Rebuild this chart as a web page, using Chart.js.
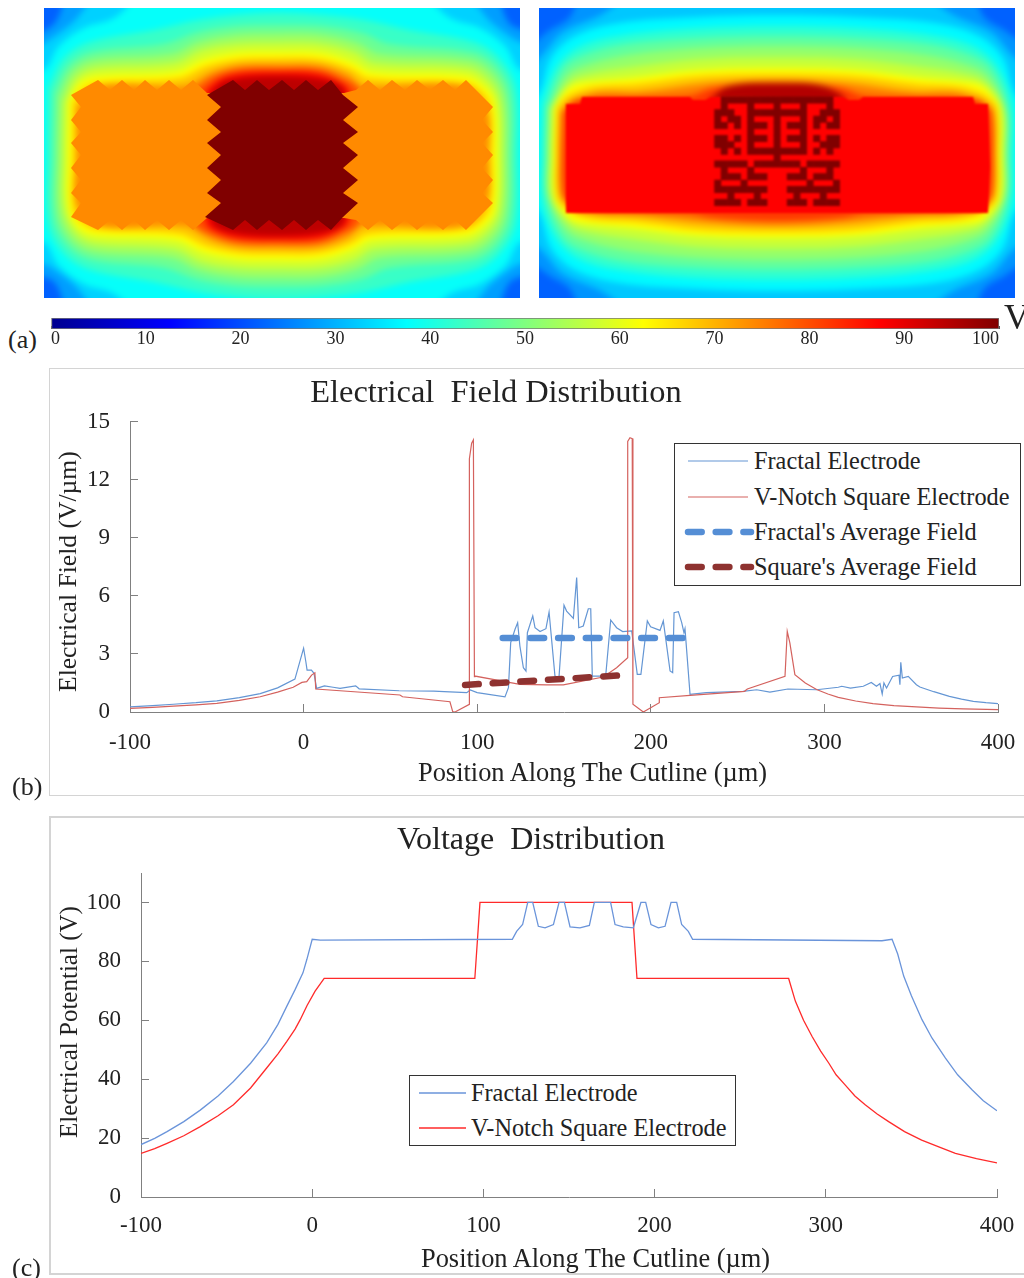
<!DOCTYPE html>
<html>
<head>
<meta charset="utf-8">
<title>Electrode field and voltage distribution</title>
<script src="https://cdn.jsdelivr.net/npm/chart.js@4/dist/chart.umd.min.js"></script>
<style>
    html, body { margin: 0; padding: 0; background: #fff; }
    body { position: relative; width: 1024px; height: 1278px; overflow: hidden; font-family: "Liberation Serif", serif; color: #222; }
    canvas { position: absolute; }
    .heat { position: absolute; top: 8px; width: 476px; height: 290px; overflow: hidden; }
    .heat canvas { left: -20px; top: -20px; }
    .halo { filter: blur(3px); }
    .metal { filter: blur(0.7px); }
    .frame { position: absolute; left: 49px; width: 985px; box-sizing: border-box; border: 1px solid #d4d4d4; }
    .tag { position: absolute; font-size: 26px; line-height: 28px; }
    .axisname { position: absolute; white-space: nowrap; line-height: 30px; color: #222; }
    .axisname.up { transform-origin: 0 0; transform: rotate(-90deg); }
    .legend { position: absolute; box-sizing: border-box; border: 1.5px solid #333; background: #fff; }
    .legend svg { position: absolute; overflow: visible; left: 0; top: 0; }
    .legend span { position: absolute; font-size: 24.3px; line-height: 28px; white-space: nowrap; color: #222; }
</style>
</head>
<body>
<div class="heat" style="left:44px"><canvas id="heatLeftHalo" class="halo" width="516" height="330"></canvas><canvas id="heatLeftMetal" class="metal" width="516" height="330"></canvas></div>
<div class="heat" style="left:539px"><canvas id="heatRightHalo" class="halo" width="516" height="330"></canvas><canvas id="heatRightMetal" class="metal" style="filter:blur(1.2px)" width="516" height="330"></canvas></div>
<canvas id="colorBar" width="984" height="40" style="left:40px;top:312px"></canvas>
<div class="tag" style="left:8px;top:326px">(a)</div>
<div class="tag" style="left:1004px;top:297px;font-size:36px;line-height:40px">V</div>

<div class="frame" style="top:368px;height:428px"></div>
<canvas id="fieldChart" width="1056" height="426" style="left:-32px;top:369px"></canvas>
<div class="axisname" style="left:418px;top:757px;font-size:26.4px">Position Along The Cutline (µm)</div>
<div class="axisname up" style="left:53px;top:692px;font-size:25.6px">Electrical Field (V/µm)</div>
<div class="tag" style="left:12px;top:773px">(b)</div>
<div class="legend" id="fieldLegend" style="left:674px;top:443px;width:347px;height:143px"></div>

<div class="frame" style="top:816px;height:459px;border-width:2px"></div>
<canvas id="voltageChart" width="986" height="457" style="left:38px;top:817px"></canvas>
<div class="axisname" style="left:421px;top:1243px;font-size:26.4px">Position Along The Cutline (µm)</div>
<div class="axisname up" style="left:54px;top:1138px;font-size:25px">Electrical Potential (V)</div>
<div class="tag" style="left:12px;top:1254px">(c)</div>
<div class="legend" id="voltageLegend" style="left:409px;top:1075px;width:327px;height:71px"></div>

<script>
// Colour scale of the potential maps
const jetStops = [0, 12.5, 37.5, 62.5, 87.5, 100];
const jetColors = ['#00008f', '#0000ff', '#00ffff', '#ffff00', '#ff0000', '#800000'];
const barRange = [0, 100];

// (b) field along the cutline
const fractalFieldX = [-100, -87, -75, -62, -50, -37, -25, -15, -5, 0, 1.3, 2, 4.5, 6, 7.5, 12, 17, 21, 30, 32, 55, 75, 81, 94, 96, 100, 116, 118, 119.3, 121.8, 123.3, 124.6, 126.6, 128.1, 128.9, 132, 133.3, 136.2, 139.6, 141.4, 144.8, 147.1, 150, 151.5, 155.4, 157.3, 158.5, 161.1, 164, 165.4, 166.3, 174, 176.9, 180.3, 183.8, 189, 192.2, 194.3, 198, 199.9, 205.3, 207.2, 211.1, 212.6, 213.4, 215.9, 217.8, 219.1, 219.7, 222.6, 232, 253, 261, 268.6, 279, 295.5, 308, 310, 315, 322.4, 327, 330, 332, 333.3, 334.3, 335.8, 339.3, 343, 343.5, 344, 344.9, 348.3, 353, 355, 363, 372, 379, 385.8, 393, 400];
const fractalFieldY = [0.27, 0.33, 0.4, 0.48, 0.58, 0.74, 0.95, 1.25, 1.7, 3.3, 2.6, 2.17, 2.17, 2, 1.22, 1.35, 1.28, 1.22, 1.35, 1.2, 1.1, 1.08, 1.05, 1, 1.14, 1, 0.78, 1.26, 3.59, 4.28, 4.62, 3.41, 2.29, 2.12, 4.1, 4.97, 4.36, 4.16, 4.31, 5.17, 1.86, 1.78, 5.52, 5.22, 4.84, 6.95, 4.36, 4.45, 5.34, 5.34, 1.86, 1.86, 4.76, 4.36, 4.16, 4.19, 1.95, 1.95, 4.71, 4.41, 4.22, 4.71, 2.12, 2.03, 5.14, 5.19, 4.62, 4.1, 4.31, 0.91, 1, 1.07, 1.15, 1.03, 1.19, 1.15, 1.28, 1.33, 1.24, 1.33, 1.53, 1.33, 1.47, 0.93, 1.5, 1.24, 1.84, 1.9, 1.41, 2.57, 1.76, 1.84, 1.41, 1.29, 1.05, 0.81, 0.67, 0.55, 0.48, 0.43];
const squareFieldX = [-100, -87, -75, -62, -50, -37, -25, -15, -6, -1, 1.8, 4.6, 6.5, 7, 55.5, 57, 84.3, 85.9, 87.2, 95.5, 95.5, 96.8, 97.8, 98.4, 98.7, 124.6, 140, 149.6, 172.6, 180.3, 186.7, 186.7, 188, 189.3, 189.7, 195.7, 204.9, 204.9, 222.6, 254, 255.6, 277.3, 278.6, 280.1, 283, 289, 295.5, 302, 308, 318, 328, 340, 353, 366, 380, 400];
const squareFieldY = [0.19, 0.24, 0.3, 0.37, 0.45, 0.6, 0.79, 1.03, 1.28, 1.53, 1.57, 1.91, 2.03, 1.19, 0.88, 0.79, 0.53, 0.02, 0, 0.4, 13.1, 13.9, 14.07, 1.83, 1.86, 1.43, 1.4, 1.4, 1.81, 2.29, 2.81, 14, 14.19, 14.14, 0.4, 0, 0.48, 0.74, 0.86, 1.07, 1.19, 1.84, 4.17, 3.57, 1.93, 1.5, 1.16, 0.93, 0.76, 0.57, 0.43, 0.33, 0.26, 0.2, 0.16, 0.12];
const fractalAvgX = [114.7, 220.7];
const fractalAvgY = [3.83, 3.83];
const squareAvgX = [93, 183.6];
const squareAvgY = [1.4, 1.9];

// (c) potential along the cutline
const fractalVoltX = [-100, -92, -84.8, -75, -65.4, -55, -46, -36, -26.6, -20, -14.8, -10, -5.4, -3.1, 0, 4.7, 116.9, 119.4, 122.9, 125.9, 128.8, 132.1, 136, 140.9, 144.2, 147.3, 150.6, 156.4, 161.9, 164.8, 174.3, 176.9, 181.7, 187.6, 192, 194.8, 197.9, 202.2, 206.1, 209.6, 212.9, 215.8, 219.7, 222.2, 332.8, 338.7, 342, 345.5, 350, 356.2, 362, 369.8, 377, 385.4, 392, 400];
const fractalVoltY = [17.8, 19.9, 22.2, 25.6, 29.5, 34.3, 39.2, 45.4, 52.3, 58.6, 64.8, 70.4, 76.1, 80.7, 87.5, 87.2, 87.5, 90.2, 92.5, 100, 100, 91.9, 91.4, 92.5, 100, 100, 91.7, 91.4, 92.2, 100, 100, 92.5, 91.7, 91.4, 100, 100, 92.5, 91.4, 91.9, 100, 100, 92.5, 90.2, 87.5, 87, 87.5, 82.5, 75, 68.3, 60.2, 54, 47.2, 41.5, 36.4, 32.7, 29.3];
const squareVoltX = [-100, -92, -84.8, -75, -65.4, -55, -46, -36, -26.6, -20, -14.8, -10, -7, -3, 1.7, 7, 95, 98, 186.8, 189.7, 278.3, 282.2, 287, 292, 297, 301.7, 306, 311.4, 317, 323, 330, 336.7, 346, 356, 366, 375.7, 388, 400];
const squareVoltY = [14.8, 16.4, 18.2, 20.8, 23.9, 27.6, 31.3, 37, 43.8, 48.6, 52.8, 57, 60.2, 65, 69.9, 74.2, 74.2, 100, 100, 74.2, 74.2, 66.5, 60, 54.5, 49.5, 45.5, 41.5, 38, 34.3, 31.3, 28.2, 25.6, 22.2, 19.3, 17, 14.8, 13, 11.6];

const fieldTicks = { xStep: 100, yStep: 3 };
const voltageTicks = { xStep: 100, yStep: 20 };
const fieldNames = ['Fractal Electrode', 'V-Notch Square Electrode', "Fractal's Average Field", "Square's Average Field"];
const voltageNames = ['Fractal Electrode', 'V-Notch Square Electrode'];

// (a) left map, contours of equal potential
const leftLevels = [22, 28, 33, 38, 43, 48, 53, 58, 62.5, 68, 74, 80, 88, 94];
const leftContours = [
    [[-20,-20],[496,-20],[496,310],[-20,310]],
    [[-20,32],[10,16],[32,-20],[444,-20],[466,16],[496,32],[496,258],[466,274],[444,310],[32,310],[10,274],[-20,258]],
    [[-20,48],[8,30],[28,15],[66,-20],[410,-20],[448,15],[468,30],[496,48],[496,242],[468,260],[448,275],[410,310],[66,310],[28,275],[8,260],[-20,242]],
    [[-20,62],[0,62],[15,38],[40,20],[70,10],[110,-20],[366,-20],[406,10],[436,20],[461,38],[476,62],[496,62],[496,234],[476,234],[461,258],[436,276],[406,286],[366,316],[110,316],[70,286],[40,276],[15,258],[0,234],[-20,234]],
    [[4,80],[20,50],[46,34],[110,22],[155,12],[193,7],[233,5],[277,7],[320,12],[365,22],[430,34],[455,50],[472,80],[474,148],[472,216],[455,246],[430,262],[365,274],[320,284],[277,289],[233,291],[193,289],[155,284],[110,274],[46,262],[20,246],[4,216],[3,148]],
    [[10,85],[24,58],[48,44],[120,36],[155,24],[193,18],[233,17],[277,18],[318,25],[345,36],[428,44],[452,58],[466,85],[468,148],[466,211],[452,238],[428,252],[345,260],[318,271],[277,278],[233,279],[193,278],[155,272],[120,260],[48,252],[24,238],[10,211],[9,148]],
    [[15,90],[28,64],[50,52],[128,46],[155,34],[193,27],[233,26],[277,27],[313,35],[335,46],[426,52],[449,66],[461,90],[463,148],[461,206],[449,230],[426,244],[335,250],[313,261],[277,269],[233,270],[193,269],[155,262],[128,250],[50,244],[28,232],[15,206],[14,148]],
    [[20,95],[32,70],[52,60],[130,55],[158,42],[193,36],[233,35],[277,36],[310,44],[330,55],[424,60],[446,74],[456,95],[458,148],[456,201],[446,222],[424,236],[330,241],[310,252],[277,260],[233,261],[193,260],[158,254],[130,241],[52,236],[32,226],[20,201],[19,148]],
    [[25,92],[37,74],[54,68],[132,64],[159,52],[193,45],[233,44],[277,45],[308,54],[328,64],[422,68],[442,80],[451,95],[453,148],[451,201],[442,216],[422,228],[328,232],[308,242],[277,251],[233,252],[193,251],[159,244],[132,232],[54,228],[37,222],[25,204],[24,148]],
    [[29,95],[40,80],[56,74],[135,70],[162,58],[195,51],[233,50],[275,51],[306,60],[325,70],[420,74],[438,84],[447,100],[448,148],[447,196],[438,212],[420,222],[325,226],[306,236],[275,245],[233,246],[195,245],[162,238],[135,226],[56,222],[40,216],[29,201],[29,148]],
    [[33,100],[58,78],[140,78],[168,64],[195,57],[233,56],[275,57],[303,66],[320,78],[418,78],[443,105],[444,148],[443,191],[418,218],[320,218],[303,230],[275,239],[233,240],[195,239],[168,232],[140,218],[58,218],[33,196],[33,148]],
    [[150,82],[170,68],[195,61],[233,60],[275,61],[298,70],[315,82],[315,214],[298,226],[275,235],[233,236],[195,235],[170,228],[150,214]],
    [[162,82],[178,70],[200,65],[233,64],[270,65],[292,72],[305,84],[305,212],[292,224],[270,231],[233,232],[200,231],[178,226],[162,214]],
    [[168,84],[182,73],[233,68],[285,73],[300,84],[300,212],[285,223],[233,228],[182,223],[168,212]]
];
const orangeLevel = 74;
const orangeOutline = [[27,87],[54,72],[66,82],[78,72],[90,82],[101,72],[113,82],[125,72],[137,82],[149,72],[163,85],[300,85],[312,82],[324,72],[336,82],[348,72],[361,82],[373,72],[386,82],[399,72],[411,82],[422,72],[449,99],[438,112],[449,124],[438,135],[449,147],[438,160],[449,172],[438,185],[449,195],[422,222],[411,212],[399,222],[386,212],[373,222],[361,212],[348,222],[336,212],[324,222],[312,212],[300,210],[163,210],[149,222],[137,212],[125,222],[113,212],[101,222],[90,212],[78,222],[66,212],[54,222],[27,209],[37,195],[27,185],[37,172],[27,160],[37,147],[27,135],[37,124],[27,112],[37,99]];
const darkLevel = 100;
const darkOutline = [[163,87],[189,72],[201,82],[213,72],[225,82],[238,72],[250,82],[262,72],[274,82],[287,72],[299,87],[314,99],[299,112],[314,124],[299,135],[314,147],[299,160],[314,172],[299,185],[314,195],[299,209],[287,222],[274,212],[262,222],[250,212],[238,222],[225,212],[213,222],[201,212],[189,222],[161,209],[177,195],[163,185],[177,172],[163,160],[177,147],[163,135],[177,124],[163,112],[177,99]];

// (a) right map
const rightLevels = [22, 27, 32, 37, 42, 47, 52, 57, 62.5, 68, 75, 82, 95];
const rightContours = [
    [[-20,-20],[496,-20],[496,310],[-20,310]],
    [[-20,50],[8,24],[30,10],[50,-20],[426,-20],[446,10],[468,24],[496,50],[496,240],[468,266],[446,280],[426,310],[50,310],[30,280],[8,266],[-20,240]],
    [[-20,72],[4,46],[24,24],[60,8],[110,-20],[366,-20],[416,8],[452,24],[472,46],[496,72],[496,218],[472,244],[452,266],[416,282],[366,310],[110,310],[60,282],[24,266],[4,244],[-20,218]],
    [[-20,105],[0,85],[12,50],[36,28],[80,15],[160,9],[238,7],[316,9],[396,15],[440,28],[464,50],[476,85],[496,105],[496,185],[476,205],[464,240],[440,262],[396,275],[316,281],[238,283],[160,281],[80,275],[36,262],[12,240],[0,205],[-20,185]],
    [[3,95],[18,58],[42,38],[85,27],[160,20],[238,18],[316,20],[391,27],[434,38],[458,58],[473,95],[474,147],[473,195],[458,232],[434,252],[391,263],[316,270],[238,272],[160,270],[85,263],[42,252],[18,232],[3,195],[2,147]],
    [[7,100],[24,60],[47,46],[88,36],[160,30],[238,28],[316,30],[388,36],[429,46],[452,60],[469,100],[470,147],[469,190],[452,230],[429,244],[388,254],[316,260],[238,262],[160,260],[88,254],[47,244],[24,230],[7,190],[6,147]],
    [[10,100],[28,67],[50,56],[90,47],[160,40],[238,38],[316,40],[386,47],[426,56],[448,67],[466,100],[467,147],[466,190],[448,223],[426,234],[386,243],[316,250],[238,252],[160,250],[90,243],[50,234],[28,223],[10,190],[9,147]],
    [[12,100],[31,73],[53,65],[92,59],[160,51],[238,49],[316,51],[384,59],[423,65],[445,73],[464,100],[465,147],[464,190],[445,217],[423,225],[384,231],[316,239],[238,241],[160,239],[92,231],[53,225],[31,217],[12,190],[11,147]],
    [[15,100],[22,88],[34,77],[56,73],[91,70],[160,62],[238,60],[316,62],[385,70],[420,73],[442,77],[454,88],[461,100],[462,147],[461,190],[454,202],[442,213],[420,217],[385,220],[316,228],[238,230],[160,228],[91,220],[56,217],[34,213],[22,202],[15,190],[14,147]],
    [[18,100],[26,90],[36,84],[58,78],[95,76],[160,68],[238,66],[316,68],[381,76],[418,78],[440,84],[450,90],[458,100],[459,147],[458,190],[450,200],[440,206],[418,212],[381,214],[316,222],[238,224],[160,222],[95,214],[58,212],[36,206],[26,200],[18,190],[17,147]],
    [[21,105],[30,94],[40,90],[60,84],[100,84],[170,75],[238,72],[306,75],[376,84],[416,84],[436,90],[446,94],[455,105],[456,147],[455,185],[446,196],[436,200],[416,206],[376,208],[306,215],[238,218],[170,215],[100,208],[60,206],[40,200],[30,196],[21,185],[20,147]],
    [[24,105],[32,95],[44,90],[150,88],[175,80],[238,77],[301,80],[326,88],[432,90],[444,95],[452,105],[453,185],[444,201],[432,204],[326,206],[301,210],[238,213],[175,210],[150,206],[44,204],[32,200],[24,185]],
    [[170,92],[190,78],[240,75],[285,78],[305,92]]
];
const redLevel = 87.5;
const redOutline = [[27,96],[41,96],[43,89],[151,89],[154,92],[166,92],[172,89],[304,89],[310,92],[320,92],[324,89],[434,89],[436,96],[449,96],[451,159],[449,205],[27,205]];
// fractal electrode pattern, one character per cell
const fractalCells = [
    '.#################.',
    '.#...#...#...#...#.',
    '###..#########..###',
    '#.##.#...#...#.##.#',
    '##.#.###.#.###.#.##',
    '.....#...#...#.....',
    '##.#.###.#.###.#.##',
    '###..#...#...#..###',
    '.#.#.#########.#.#.',
    '.........#.........',
    '#####.#######.#####',
    '.#...#.......#...#.',
    '.###.###...###.###.',
    '#...#.........#...#',
    '########...########',
    '..#...#.....#...#..',
    '####.###...###.####'
];

function jetColor(value) {
    let i = 0;
    while (i < jetStops.length - 2 && value > jetStops[i + 1]) i++;
    const t = (value - jetStops[i]) / (jetStops[i + 1] - jetStops[i]);
    const a = parseInt(jetColors[i].slice(1), 16);
    const b = parseInt(jetColors[i + 1].slice(1), 16);
    const mix = shift => Math.round(((a >> shift) & 255) * (1 - t) + ((b >> shift) & 255) * t);
    return `rgb(${mix(16)},${mix(8)},${mix(0)})`;
}

function zipPoints(xs, ys) {
    return xs.map((x, i) => ({ x: x, y: ys[i] }));
}

function shapeDataset(outline, level, tension) {
    return {
        data: outline.concat([outline[0]]).map(p => ({ x: p[0], y: p[1] })),
        showLine: true,
        fill: 'shape',
        backgroundColor: jetColor(level),
        borderColor: jetColor(level),
        borderWidth: 0,
        pointRadius: 0,
        pointHoverRadius: 0,
        tension: tension || 0
    };
}

// Chart.js paints the first dataset last, so the lists are turned round to keep low levels underneath
function drawMap(id, datasets) {
    new Chart(document.getElementById(id), {
        type: 'scatter',
        data: { datasets: datasets.slice().reverse() },
        options: {
            responsive: false,
            animation: false,
            events: [],
            layout: { padding: 0 },
            elements: { line: { capBezierPoints: false } },
            plugins: { legend: { display: false }, tooltip: { enabled: false } },
            scales: {
                x: { type: 'linear', display: false, min: -20, max: 496 },
                y: { type: 'linear', display: false, min: -20, max: 310, reverse: true }
            }
        }
    });
}

function cellShapes() {
    const shapes = [];
    fractalCells.forEach((row, r) => {
        row.split('').forEach((cell, c) => {
            if (cell !== '#') return;
            const cx = 178.7 + c * 6.6;
            const cy = 92 + r * 6.4;
            shapes.push(shapeDataset([[cx - 3.5, cy - 3.5], [cx + 3.5, cy - 3.5], [cx + 3.5, cy + 3.5], [cx - 3.5, cy + 3.5]], darkLevel));
        });
    });
    return shapes;
}

drawMap('heatLeftHalo', leftContours.map((outline, i) => shapeDataset(outline, leftLevels[i], 0.35)));
drawMap('heatLeftMetal', [shapeDataset(orangeOutline, orangeLevel), shapeDataset(darkOutline, darkLevel)]);
drawMap('heatRightHalo', rightContours.map((outline, i) => shapeDataset(outline, rightLevels[i], 0.35)));
drawMap('heatRightMetal', [shapeDataset(redOutline, redLevel)].concat(cellShapes()));

// Colour bar is one floating bar painted with the scale's gradient
new Chart(document.getElementById('colorBar'), {
    type: 'bar',
    data: {
        labels: ['V'],
        datasets: [{
            data: [barRange],
            barPercentage: 1,
            categoryPercentage: 1,
            borderWidth: 1,
            borderColor: '#777',
            borderSkipped: false,
            backgroundColor: ctx => {
                const x = ctx.chart.scales.x;
                const x0 = x ? x.getPixelForValue(0) : NaN;
                const x1 = x ? x.getPixelForValue(100) : NaN;
                if (!Number.isFinite(x0) || !Number.isFinite(x1)) return '#888';
                const grad = ctx.chart.ctx.createLinearGradient(x0, 0, x1, 0);
                jetStops.forEach((stop, i) => grad.addColorStop(stop / 100, jetColors[i]));
                return grad;
            }
        }]
    },
    options: {
        indexAxis: 'y',
        responsive: false,
        animation: false,
        events: [],
        layout: { padding: { left: 11, right: 25, top: 6, bottom: 0 } },
        plugins: { legend: { display: false }, tooltip: { enabled: false } },
        scales: {
            y: { display: false },
            x: {
                type: 'linear',
                min: 0,
                max: 100,
                afterFit: scale => { scale.height = 23; },
                border: { display: false },
                grid: { drawOnChartArea: false, tickLength: -3, color: '#555' },
                ticks: { stepSize: 10, align: 'inner', padding: 2, maxRotation: 0, color: '#222', font: { family: 'Liberation Serif', size: 18 } }
            }
        }
    }
});

// The plot's right margin goes on the x scale so the chart title stays centred on the whole canvas
function axisOptions(leftWidth, bottomHeight, rightGap, yMax, yStep, xStep, xPad) {
    const tickFont = { family: 'Liberation Serif', size: 23 };
    return {
        x: {
            type: 'linear',
            min: -100,
            max: 400,
            afterFit: scale => {
                scale.height = bottomHeight;
                scale.paddingRight = rightGap;
                scale.paddingLeft = 0;
            },
            border: { color: '#808080' },
            grid: { drawOnChartArea: false, tickLength: -8, color: '#808080' },
            ticks: { stepSize: xStep, padding: xPad, maxRotation: 0, color: '#222', font: tickFont }
        },
        y: {
            type: 'linear',
            min: 0,
            max: yMax,
            afterFit: scale => { scale.width = leftWidth; },
            border: { color: '#808080' },
            grid: { drawOnChartArea: false, tickLength: -8, color: '#808080' },
            ticks: { stepSize: yStep, padding: 28, includeBounds: false, color: '#222', font: tickFont }
        }
    };
}

function lineSet(name, xs, ys, color, width) {
    return { label: name, data: zipPoints(xs, ys), showLine: true, borderColor: color, backgroundColor: color, borderWidth: width, pointRadius: 0, pointHoverRadius: 0, tension: 0 };
}

function dashedSet(name, xs, ys, color) {
    const set = lineSet(name, xs, ys, color, 6.5);
    set.borderDash = [13.7, 14];
    set.borderCapStyle = 'round';
    return set;
}

const fieldBlue = '#6496d4';
const fieldRed = '#d4625e';
const avgBlue = '#558ed5';
const avgRed = '#8e3230';
const voltBlue = '#6a94da';
const voltRed = '#ff2a2a';

new Chart(document.getElementById('fieldChart'), {
    type: 'scatter',
    data: {
        datasets: [
            dashedSet(fieldNames[2], fractalAvgX, fractalAvgY, avgBlue),
            dashedSet(fieldNames[3], squareAvgX, squareAvgY, avgRed),
            lineSet(fieldNames[1], squareFieldX, squareFieldY, fieldRed, 1.2),
            lineSet(fieldNames[0], fractalFieldX, fractalFieldY, fieldBlue, 1.2)
        ]
    },
    options: {
        responsive: false,
        animation: false,
        events: [],
        plugins: {
            legend: { display: false },
            tooltip: { enabled: false },
            title: { display: true, text: 'Electrical  Field Distribution', color: '#222', font: { family: 'Liberation Serif', size: 32.4, weight: 'normal' }, padding: { top: 5, bottom: 9.1 } }
        },
        scales: axisOptions(162, 83, 26, 15, fieldTicks.yStep, fieldTicks.xStep, 25)
    }
});

new Chart(document.getElementById('voltageChart'), {
    type: 'scatter',
    data: {
        datasets: [
            lineSet(voltageNames[0], fractalVoltX, fractalVoltY, voltBlue, 1.3),
            lineSet(voltageNames[1], squareVoltX, squareVoltY, voltRed, 1.3)
        ]
    },
    options: {
        responsive: false,
        animation: false,
        events: [],
        plugins: {
            legend: { display: false },
            tooltip: { enabled: false },
            title: { display: true, text: 'Voltage  Distribution', color: '#222', font: { family: 'Liberation Serif', size: 32, weight: 'normal' }, padding: { top: 4, bottom: 13.6 } }
        },
        scales: axisOptions(103, 77, 27, 110, voltageTicks.yStep, voltageTicks.xStep, 23)
    }
});

// HTML legends, the boxes sit inside the plot area
function buildLegend(id, entries, textLeft) {
    const box = document.getElementById(id);
    const ns = 'http://www.w3.org/2000/svg';
    const svg = document.createElementNS(ns, 'svg');
    svg.setAttribute('width', box.clientWidth);
    svg.setAttribute('height', box.clientHeight);
    entries.forEach(entry => {
        const line = document.createElementNS(ns, 'line');
        line.setAttribute('x1', entry.x1);
        line.setAttribute('x2', entry.x2);
        line.setAttribute('y1', entry.y);
        line.setAttribute('y2', entry.y);
        line.setAttribute('stroke', entry.color);
        line.setAttribute('stroke-width', entry.width);
        if (entry.dash) {
            line.setAttribute('stroke-dasharray', entry.dash);
            line.setAttribute('stroke-linecap', 'round');
        }
        svg.appendChild(line);
        const label = document.createElement('span');
        label.textContent = entry.name;
        label.style.left = textLeft + 'px';
        label.style.top = (entry.y - 14) + 'px';
        box.appendChild(label);
    });
    box.appendChild(svg);
}

buildLegend('fieldLegend', [
    { name: fieldNames[0], x1: 13, x2: 73, y: 17, color: fieldBlue, width: 1.2 },
    { name: fieldNames[1], x1: 13, x2: 73, y: 53, color: fieldRed, width: 1.2 },
    { name: fieldNames[2], x1: 13, x2: 76, y: 88, color: avgBlue, width: 6.5, dash: '13.7 14' },
    { name: fieldNames[3], x1: 13, x2: 76, y: 123, color: avgRed, width: 6.5, dash: '13.7 14' }
], 79);
buildLegend('voltageLegend', [
    { name: voltageNames[0], x1: 9, x2: 56, y: 17, color: voltBlue, width: 1.3 },
    { name: voltageNames[1], x1: 9, x2: 56, y: 52, color: voltRed, width: 1.3 }
], 61);
</script>
</body>
</html>
